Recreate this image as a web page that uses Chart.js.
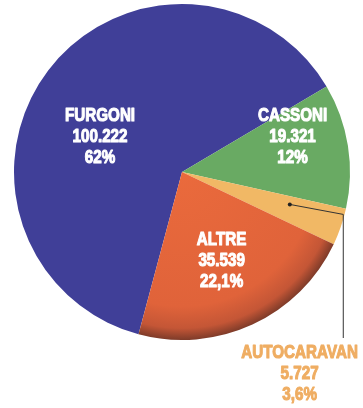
<!DOCTYPE html>
<html>
<head>
<meta charset="utf-8">
<script src="https://cdn.jsdelivr.net/npm/chart.js@4"></script>
<style>
  html, body { margin: 0; padding: 0; background: #fff; }
  #wrap { width: 363px; height: 408px; position: relative; }
</style>
</head>
<body>
<div id="wrap"><canvas id="pie-chart"></canvas></div>
<script>
// categorie e valori
const categorie = ['FURGONI', 'CASSONI', 'AUTOCARAVAN', 'ALTRE'];
const valori = [100222, 19321, 5727, 35539];
const valoriTesto = ['100.222', '19.321', '5.727', '35.539'];
const percentuali = ['62%', '12%', '3,6%', '22,1%'];

const colori = ['#403f98', '#69aa63', '#f1b865', '#e4623a'];
const FONT = 'bold 19px "Liberation Sans", Arial, sans-serif';

// posizione delle etichette (angolo in gradi da ore 12, frazione del raggio)
const posEtichette = {
  0: { ang: 293, r: 0.53 },
  1: { ang: 72.5, r: 0.69 },
  3: { ang: 156, r: 0.58 }
};

// testo stretto e pesante (tipo condensed black)
function scritta(ctx, t, x, y) {
  ctx.save();
  ctx.translate(x, y);
  ctx.scale(0.8, 1);
  ctx.strokeStyle = ctx.fillStyle;
  ctx.lineWidth = 1.1;
  ctx.lineJoin = 'round';
  ctx.strokeText(t, 0, 0);
  ctx.fillText(t, 0, 0);
  ctx.restore();
}

// plugin che scrive le etichette e la linea di richiamo
const etichettePlugin = {
  id: 'etichette',
  afterDatasetsDraw(chart) {
    const ctx = chart.ctx;
    const meta = chart.getDatasetMeta(0);
    const arc0 = meta.data[0];
    const cx = arc0.x, cy = arc0.y, R = arc0.outerRadius;
    ctx.save();
    ctx.font = FONT;
    ctx.textAlign = 'center';
    ctx.textBaseline = 'middle';
    ctx.fillStyle = '#ffffff';
    Object.keys(posEtichette).forEach(k => {
      const i = Number(k);
      const p = posEtichette[k];
      const a = (p.ang - 90) * Math.PI / 180;
      const x = cx + Math.cos(a) * R * p.r;
      const y = cy + Math.sin(a) * R * p.r;
      const righe = [categorie[i], valoriTesto[i], percentuali[i]];
      righe.forEach((t, j) => scritta(ctx, t, x, y + (j - 1) * 21));
    });

    // AUTOCARAVAN: punto nella fetta, linea verso il basso, testo fuori
    const arc = meta.data[2];
    const mid = (arc.startAngle + arc.endAngle) / 2 - 0.04;
    const px = cx + Math.cos(mid) * R * 0.67;
    const py = cy + Math.sin(mid) * R * 0.67;
    const lx = cx + R * 0.96;
    ctx.strokeStyle = '#333';
    ctx.lineWidth = 1;
    ctx.beginPath();
    ctx.moveTo(px, py);
    ctx.lineTo(lx, py + 10);
    ctx.lineTo(lx, cy + R - 2);
    ctx.stroke();
    ctx.fillStyle = '#222';
    ctx.beginPath();
    ctx.arc(px, py, 2, 0, Math.PI * 2);
    ctx.fill();

    ctx.fillStyle = '#efad62';
    const tx = cx + R * 0.7;
    const ty = cy + R + 13;
    [categorie[2], valoriTesto[2], percentuali[2]].forEach((t, j) => scritta(ctx, t, tx, ty + j * 21));
    ctx.restore();
  }
};

const pieData = {
  labels: categorie,
  datasets: [{
    data: valori,
    backgroundColor: (c) => {
      if (c.dataIndex !== 3 || !c.chart.chartArea) return colori[c.dataIndex];
      const a = c.chart.chartArea;
      const x = (a.left + a.right) / 2, y = (a.top + a.bottom) / 2;
      const r = Math.min(a.width, a.height) / 2;
      const g = c.chart.ctx.createRadialGradient(x, y, 0, x, y, r);
      g.addColorStop(0, '#ea6a3c');
      g.addColorStop(0.8, '#e0633a');
      g.addColorStop(0.93, '#c45636');
      g.addColorStop(1, '#7e3b29');
      return g;
    },
    borderWidth: 0
  }]
};

const pieConfig = {
  type: 'pie',
  data: pieData,
  options: {
    responsive: true,
    maintainAspectRatio: false,
    animation: false,
    rotation: 195,
    layout: { padding: { top: 4, bottom: 68, left: 14, right: 13 } },
    plugins: {
      legend: { display: false },
      tooltip: { enabled: false }
    }
  },
  plugins: [etichettePlugin]
};

const pieChart = new Chart(document.getElementById('pie-chart'), pieConfig);
</script>
</body>
</html>
